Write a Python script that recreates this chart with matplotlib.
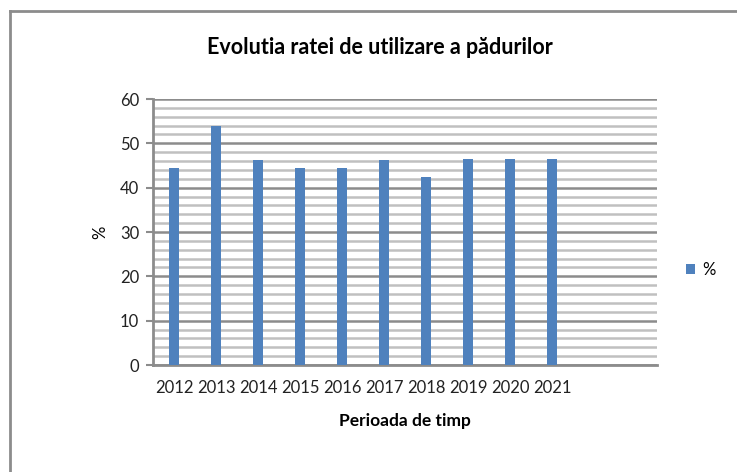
import matplotlib.pyplot as plt
from matplotlib.lines import Line2D
from matplotlib.ticker import MultipleLocator

plt.rcParams['font.family'] = ['Lato', 'DejaVu Sans']

years = ["2012", "2013", "2014", "2015", "2016", "2017", "2018", "2019", "2020", "2021"]
values = [44.5, 53.8, 46.2, 44.5, 44.5, 46.2, 42.5, 46.5, 46.5, 46.5]
n_slots = 12  # the axis leaves room for two empty categories

bar_color = "#4F81BD"
major_grid = "#8C8C8C"
minor_grid = "#C0C0C0"

fig = plt.figure(figsize=(7.37, 4.72), dpi=100)
ax = fig.add_axes([153 / 737, 1 - 365 / 472, 504 / 737, 266 / 472])

x = list(range(len(years)))
ax.bar(x, values, width=0.24, color=bar_color, zorder=3, label="%")

ax.set_xlim(-0.5, n_slots - 0.5)
ax.set_ylim(0, 60)
ax.set_xticks(x)
ax.set_xticklabels(years, fontsize=12, color="#222222")
ax.tick_params(axis="x", length=0, pad=11)
ax.yaxis.set_major_locator(MultipleLocator(10))
ax.yaxis.set_minor_locator(MultipleLocator(2))
ax.tick_params(axis="y", which="major", length=5, width=1.5, color=major_grid,
               labelsize=12, labelcolor="#222222", pad=5)
ax.tick_params(axis="y", which="minor", length=0)

ax.grid(axis="y", which="major", color=major_grid, lw=1.8, zorder=1)
ax.grid(axis="y", which="minor", color=minor_grid, lw=1.8, zorder=1)

for side in ("top", "right"):
    ax.spines[side].set_visible(False)
for side in ("left", "bottom"):
    ax.spines[side].set_color(major_grid)
    ax.spines[side].set_linewidth(2)

fig.text(380 / 737, 1 - 47 / 472, "Evolutia ratei de utilizare a pădurilor",
         ha="center", va="center", fontsize=15.5, fontweight="bold")
fig.text(405 / 737, 1 - 421 / 472, "Perioada de timp",
         ha="center", va="center", fontsize=12.5, fontweight="bold")
fig.text(100 / 737, 1 - 232 / 472, "%", ha="center", va="center",
         fontsize=12, rotation=90)

ax.legend(loc="center left", bbox_to_anchor=(671 / 737, 1 - 270 / 472),
          bbox_transform=fig.transFigure, frameon=False, fontsize=12,
          handlelength=0.55, handleheight=0.55, handletextpad=0.4)

# outer frame (only top and left edges show in the screenshot)
fig.add_artist(Line2D([10 / 737, 1], [1 - 11 / 472, 1 - 11 / 472],
                      transform=fig.transFigure, color="#8C8C8C", lw=2))
fig.add_artist(Line2D([10 / 737, 10 / 737], [0, 1 - 11 / 472],
                      transform=fig.transFigure, color="#8C8C8C", lw=2))

fig.savefig("out.png", dpi=100)
